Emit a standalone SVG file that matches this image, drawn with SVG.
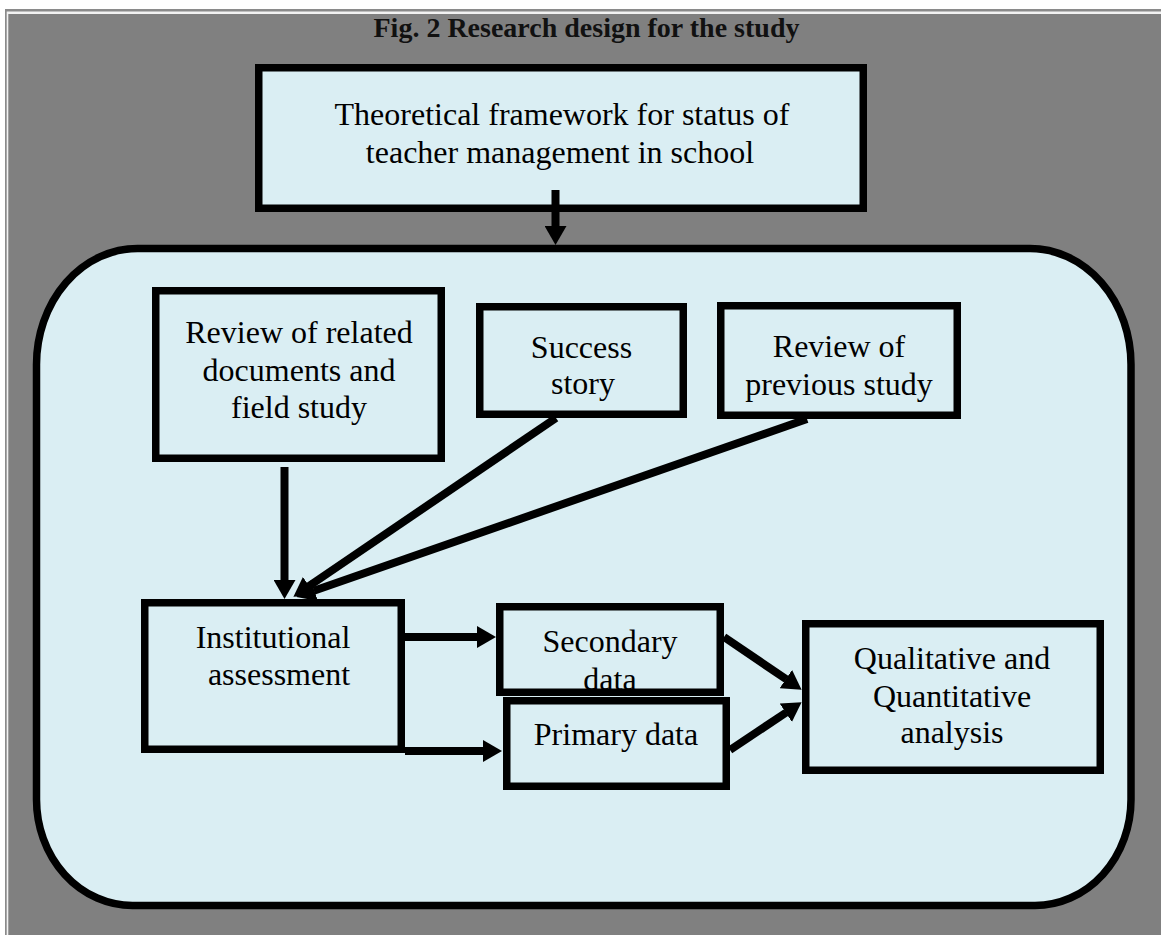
<svg xmlns="http://www.w3.org/2000/svg" width="1161" height="935" viewBox="0 0 1161 935">
  <style>
    .t { font-family: "Liberation Serif", "Times New Roman", serif; font-size: 32px; text-anchor: middle; fill: #000; }
    .title { font-family: "Liberation Serif", "Times New Roman", serif; font-size: 28px; font-weight: bold; text-anchor: middle; fill: #111; }
    .box { fill: #DAEEF3; stroke: #000; stroke-width: 7.5; }
    .fillonly { fill: #DAEEF3; stroke: none; }
    .strokeonly { fill: none; stroke: #000; stroke-width: 7.5; }
    .conn { fill: none; stroke: #000; stroke-width: 8; marker-end: url(#arrow); }
  </style>
  <defs>
    <marker id="arrow" markerUnits="userSpaceOnUse" viewBox="0 0 19 22" markerWidth="19" markerHeight="22" refX="0.5" refY="11" orient="auto">
      <path d="M0,0 L19,11 L0,22 Z" fill="#000"/>
    </marker>
  </defs>

  <!-- page frame -->
  <rect x="0" y="0" width="1161" height="935" fill="#ffffff"/>
  <rect x="5" y="9" width="1200" height="1000" fill="#8a8a8a"/>
  <rect x="6.7" y="11.5" width="1200" height="1000" fill="#f2f2f2"/>
  <rect x="8.3" y="14" width="1200" height="1000" fill="#808080"/>

  <text class="title" x="586.5" y="37">Fig. 2 Research design for the study</text>

  <g id="node-theoretical">
    <rect class="box" x="258.75" y="67.75" width="604.5" height="140.5"/>
    <text class="t" x="562" y="125">Theoretical framework for status of</text>
    <text class="t" x="560" y="163">teacher management in school</text>
  </g>

  <g id="node-container">
    <path class="box" d="M137.5,248.5 H1030 A101,116 0 0 1 1131,364.5 V799.5 A96,106 0 0 1 1035,905.5 H132.5 A96,106 0 0 1 36.5,799.5 V364.5 A101,116 0 0 1 137.5,248.5 Z"/>
  </g>

  <g id="node-review-docs">
    <rect class="box" x="155.75" y="290.75" width="285.5" height="167.5"/>
    <text class="t" x="299" y="343">Review of related</text>
    <text class="t" x="299" y="380.5">documents and</text>
    <text class="t" x="299" y="418">field study</text>
  </g>

  <g id="node-success">
    <rect class="box" x="479.75" y="306.75" width="203.5" height="107.5"/>
    <text class="t" x="581.5" y="358">Success</text>
    <text class="t" x="583" y="394">story</text>
  </g>

  <g id="node-previous">
    <rect class="box" x="720.75" y="305.75" width="236.5" height="109.5"/>
    <text class="t" x="839" y="357">Review of</text>
    <text class="t" x="839" y="395">previous study</text>
  </g>

  <g id="node-institutional">
    <rect class="box" x="144.75" y="602.75" width="256.5" height="146.5"/>
    <text class="t" x="273" y="648">Institutional</text>
    <text class="t" x="279" y="685">assessment</text>
  </g>

  <g id="node-secondary">
    <rect class="fillonly" x="499.75" y="606.75" width="220.5" height="85.5"/>
    <text class="t" x="610" y="652">Secondary</text>
    <text class="t" x="610" y="690">data</text>
    <rect class="strokeonly" x="499.75" y="606.75" width="220.5" height="85.5"/>
  </g>

  <g id="node-primary">
    <rect class="box" x="506.75" y="700.75" width="219.5" height="85.5"/>
    <text class="t" x="616" y="745">Primary data</text>
  </g>

  <g id="node-analysis">
    <rect class="box" x="805.75" y="623.75" width="294.5" height="146.5"/>
    <text class="t" x="952" y="669">Qualitative and</text>
    <text class="t" x="952" y="707">Quantitative</text>
    <text class="t" x="952" y="743">analysis</text>
  </g>

  <g id="connectors">
    <line class="conn" x1="555.5" y1="190" x2="555.5" y2="226.5"/>
    <line class="conn" x1="284.5" y1="467" x2="284.5" y2="580.5"/>
    <line class="conn" x1="556" y1="418" x2="308.7" y2="586.3"/>
    <line class="conn" x1="807" y1="419" x2="313.9" y2="590.8"/>
    <line class="conn" x1="405" y1="637" x2="477.5" y2="637"/>
    <line class="conn" x1="405" y1="751" x2="483.5" y2="751"/>
    <line class="conn" x1="724" y1="637" x2="786.3" y2="679.3"/>
    <line class="conn" x1="730" y1="750" x2="786.2" y2="712.5"/>
  </g>
</svg>
